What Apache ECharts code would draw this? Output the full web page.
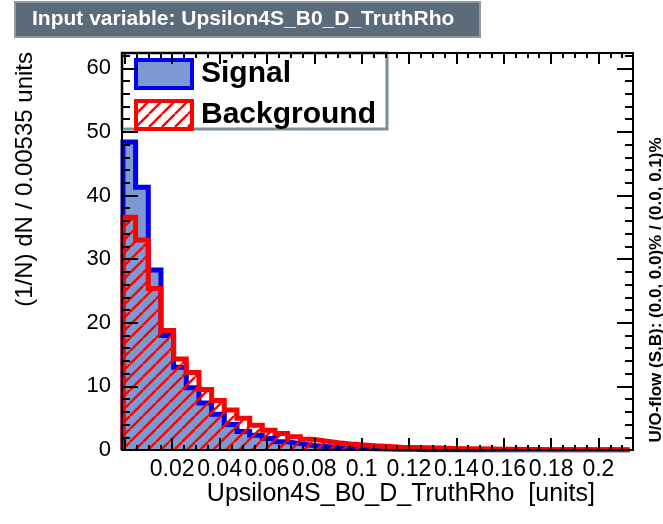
<!DOCTYPE html>
<html>
<head>
<meta charset="utf-8">
<title>Upsilon4S_B0_D_TruthRho</title>
<script src="https://cdn.jsdelivr.net/npm/echarts@6/dist/echarts.min.js"></script>
<style>
  html, body { margin: 0; padding: 0; background: #fff; }
  #chart { width: 663px; height: 524px; }
</style>
</head>
<body>
<div id="chart"></div>
<script>
// Histogram binning (x in units, normalised density per bin)
const binStart = -0.0008;
const binWidth = 0.00535;

// Signal: (1/N) dN / bin, 40 bins
const signalValues = [
  48.4, 41.3, 28.3, 18.0, 13.0, 9.8, 7.4, 5.6, 4.0, 2.9,
  2.3, 1.8, 1.3, 1.0, 0.7, 0.55, 0.4, 0.3, 0.25, 0.2,
  0.15, 0.1, 0.1, 0.05, 0.03, 0.02, 0.0, 0.0, 0.0, 0.0,
  0.0, 0.0, 0.0, 0.0, 0.0, 0.0, 0.0, 0.0, 0.0, 0.0
];

// Background: (1/N) dN / bin, 40 bins
const backgroundValues = [
  36.6, 33.0, 25.4, 18.8, 14.3, 12.2, 9.5, 7.8, 6.3, 5.0,
  3.9, 3.1, 2.6, 2.1, 1.7, 1.4, 1.15, 0.95, 0.8, 0.65,
  0.55, 0.45, 0.4, 0.35, 0.3, 0.25, 0.2, 0.18, 0.15, 0.12,
  0.1, 0.08, 0.06, 0.05, 0.04, 0.03, 0.02, 0.02, 0.02, 0.01
];

// Axis tick labels
const xTickLabels = ['0.02', '0.04', '0.06', '0.08', '0.1', '0.12', '0.14', '0.16', '0.18', '0.2'];
const yTickLabels = ['0', '10', '20', '30', '40', '50', '60'];

const seriesNames = ['Signal', 'Background'];

const FONT = '"Liberation Sans", Arial, Helvetica, sans-serif';
const xMin = -0.0012, xMax = 0.2146;
const yMin = 0, yMax = 62.4;

// Step outline points: rise at the first edge, one point per bin, drop at the last edge
function stepPoints(vals) {
  const pts = [[binStart, 0]];
  vals.forEach((v, i) => pts.push([binStart + i * binWidth, v]));
  const end = binStart + vals.length * binWidth;
  pts.push([end, vals[vals.length - 1]]);
  pts.push([end, 0]);
  return pts;
}

// Red diagonal hatch tile ("/" direction), transparent between lines
function makeHatch() {
  const s = 13;
  const c = document.createElement('canvas');
  c.width = s; c.height = s;
  const ctx = c.getContext('2d');
  ctx.strokeStyle = '#ff0000';
  ctx.lineWidth = 2.4;
  ctx.beginPath();
  [-s, 0, s].forEach(o => { ctx.moveTo(o, s); ctx.lineTo(o + s, 0); });
  ctx.stroke();
  return c;
}
const hatch = { image: makeHatch(), repeat: 'repeat' };

function labelFrom(list) {
  return function (v) {
    for (const t of list) {
      if (Math.abs(parseFloat(t) - v) < 1e-9) return t;
    }
    return '';
  };
}

const axisLineStyle = { color: '#000', width: 2 };

function xAxisDef(position, step, tickLen, withLine, withLabels) {
  return {
    type: 'value', position: position, min: xMin, max: xMax,
    minInterval: step, maxInterval: step, splitNumber: 60,
    z: 6,
    axisLine: { show: withLine, onZero: false, lineStyle: axisLineStyle },
    axisTick: { show: true, inside: true, length: tickLen, lineStyle: { color: '#000', width: 2 } },
    axisLabel: withLabels ? {
      show: true, margin: 8, color: '#000', fontFamily: FONT, fontSize: 23,
      formatter: labelFrom(xTickLabels), hideOverlap: false
    } : { show: false },
    splitLine: { show: false }
  };
}

function yAxisDef(position, step, tickLen, withLine, withLabels) {
  return {
    type: 'value', position: position, min: yMin, max: yMax, interval: step,
    z: 6,
    axisLine: { show: withLine, onZero: false, lineStyle: axisLineStyle },
    axisTick: { show: true, inside: true, length: tickLen, lineStyle: { color: '#000', width: 2 } },
    axisLabel: withLabels ? {
      show: true, margin: 11, color: '#000', fontFamily: FONT, fontSize: 22,
      formatter: labelFrom(yTickLabels)
    } : { show: false },
    splitLine: { show: false }
  };
}

const chart = echarts.init(document.getElementById('chart'), null, { renderer: 'canvas' });

chart.setOption({
  animation: false,
  backgroundColor: '#fff',
  title: {
    text: 'Input variable: Upsilon4S_B0_D_TruthRho',
    left: 15, top: 2,
    padding: [7, 26, 7, 17],
    backgroundColor: '#5c6b7a',
    borderColor: '#8d9ba4',
    borderWidth: 2,
    textStyle: { color: '#fff', fontFamily: FONT, fontWeight: 'bold', fontSize: 21, lineHeight: 21 }
  },
  grid: { left: 122, right: 30, top: 53, bottom: 74, containLabel: false },
  xAxis: [
    xAxisDef('bottom', 0.02, 12, true, true),
    xAxisDef('bottom', 0.005, 5, false, false),
    xAxisDef('top', 0.02, 11, true, false),
    xAxisDef('top', 0.005, 5, false, false)
  ],
  yAxis: [
    yAxisDef('left', 10, 16, true, true),
    yAxisDef('left', 2, 8, false, false),
    yAxisDef('right', 10, 16, true, false),
    yAxisDef('right', 2, 8, false, false)
  ],
  legend: {
    show: true,
    orient: 'vertical',
    left: 134, top: 58,
    padding: 0,
    itemWidth: 56, itemHeight: 28, itemGap: 9,
    selectedMode: false,
    z: 5,
    textStyle: { color: '#000', fontFamily: FONT, fontWeight: 'bold', fontSize: 30, lineHeight: 28, padding: [0, 0, 0, 4] },
    data: [
      { name: seriesNames[0], icon: 'rect', itemStyle: { color: '#7d99d1', borderColor: '#0000ee', borderWidth: 4 } },
      { name: seriesNames[1], icon: 'rect', itemStyle: { color: hatch, borderColor: '#ff0000', borderWidth: 4 } }
    ]
  },
  graphic: [
    {
      type: 'rect', z: 4,
      shape: { x: 122, y: 53, width: 265, height: 76 },
      style: { fill: '#fff', stroke: '#7e8e97', lineWidth: 3 }
    },
    {
      type: 'text', x: 25, y: 52, rotation: Math.PI / 2, z: 6,
      style: {
        text: '(1/N) dN / 0.00535 units', fill: '#000',
        font: '24px ' + FONT, align: 'right', verticalAlign: 'middle'
      }
    },
    {
      type: 'text', x: 595, y: 494, z: 6,
      style: {
        text: 'Upsilon4S_B0_D_TruthRho  [units]', fill: '#000',
        font: '25px ' + FONT, align: 'right', verticalAlign: 'middle'
      }
    },
    {
      type: 'text', x: 656, y: 290, rotation: Math.PI / 2, z: 6,
      style: {
        text: 'U/O-flow (S,B): (0.0, 0.0)% / (0.0, 0.1)%', fill: '#000',
        font: 'bold 17px ' + FONT, align: 'center', verticalAlign: 'middle'
      }
    }
  ],
  series: [
    {
      name: seriesNames[0], type: 'line', step: 'end',
      xAxisIndex: 0, yAxisIndex: 0,
      data: stepPoints(signalValues),
      symbol: 'none', showSymbol: false, silent: true, z: 2,
      itemStyle: { color: '#7d99d1' },
      lineStyle: { color: '#0000ee', width: 5, join: 'miter', cap: 'butt' },
      areaStyle: { color: '#7d99d1', opacity: 1, origin: 'start' }
    },
    {
      name: seriesNames[1], type: 'line', step: 'end',
      xAxisIndex: 0, yAxisIndex: 0,
      data: stepPoints(backgroundValues),
      symbol: 'none', showSymbol: false, silent: true, z: 3,
      itemStyle: { color: '#ff0000' },
      lineStyle: { color: '#ff0000', width: 5, join: 'miter', cap: 'butt' },
      areaStyle: { color: hatch, opacity: 1, origin: 'start' }
    }
  ]
});
</script>
</body>
</html>
